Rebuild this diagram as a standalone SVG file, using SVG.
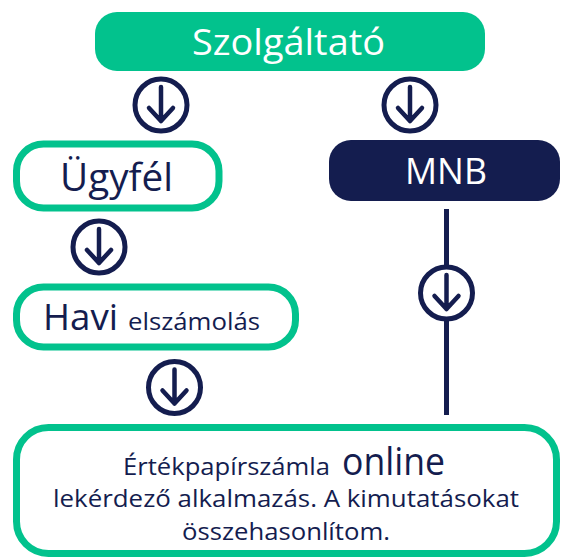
<svg xmlns="http://www.w3.org/2000/svg" width="562" height="560" viewBox="0 0 562 560">
<defs>
<style>
.g{fill:#fff;stroke:#02C28D;stroke-width:7}
.t{font-family:"Open Sans","Noto Sans",sans-serif;fill:#141D4F}
.w{font-family:"Open Sans","Noto Sans",sans-serif;fill:#fff}
.c{fill:#fff;stroke:#141D4F;stroke-width:5}
.a{fill:none;stroke:#141D4F;stroke-width:4.5;stroke-linecap:round;stroke-linejoin:round}
</style>
<g id="arrowIcon">
<circle class="c" cx="0" cy="0" r="26"/>
<path class="a" d="M0 -18V16M-12 3L0 16L12 3"/>
</g>
</defs>
<g id="connectors">
<line x1="446.5" y1="209" x2="446.5" y2="415" stroke="#141D4F" stroke-width="5"/>
<use href="#arrowIcon" x="161" y="105"/>
<use href="#arrowIcon" x="410" y="105"/>
<use href="#arrowIcon" x="99" y="247"/>
<use href="#arrowIcon" x="174.5" y="387.5"/>
<use href="#arrowIcon" x="446.5" y="293"/>
</g>
<g id="szolgaltato">
<rect x="95" y="12" width="390" height="59" rx="22" fill="#02C28D"/>
<text class="w" x="192" y="55" font-size="37" textLength="193" lengthAdjust="spacingAndGlyphs">Szolgáltató</text>
</g>
<g id="ugyfel">
<rect class="g" x="16.5" y="144" width="202.5" height="64" rx="27"/>
<text class="t" x="60" y="191" font-size="39" textLength="113" lengthAdjust="spacingAndGlyphs">Ügyfél</text>
</g>
<g id="mnb">
<rect x="329" y="140" width="231" height="61" rx="22" fill="#141D4F"/>
<text class="w" x="405" y="184" font-size="37" textLength="82" lengthAdjust="spacingAndGlyphs">MNB</text>
</g>
<g id="havi">
<rect class="g" x="16.5" y="287" width="279" height="60" rx="27"/>
<text class="t" x="43" y="330" font-size="36" textLength="75" lengthAdjust="spacingAndGlyphs">Havi</text>
<text class="t" x="128" y="330" font-size="23.5" textLength="132" lengthAdjust="spacingAndGlyphs">elszámolás</text>
</g>
<g id="ertekpapir">
<rect class="g" x="16.5" y="427.5" width="540" height="126" rx="32"/>
<text class="t" x="123" y="475" font-size="24" textLength="207" lengthAdjust="spacingAndGlyphs">Értékpapírszámla</text>
<text class="t" x="342" y="475" font-size="38" textLength="103" lengthAdjust="spacingAndGlyphs">online</text>
<text class="t" x="53" y="507" font-size="24" textLength="466" lengthAdjust="spacingAndGlyphs">lekérdező alkalmazás. A kimutatásokat</text>
<text class="t" x="182" y="540" font-size="24" textLength="208" lengthAdjust="spacingAndGlyphs">összehasonlítom.</text>
</g>
</svg>
